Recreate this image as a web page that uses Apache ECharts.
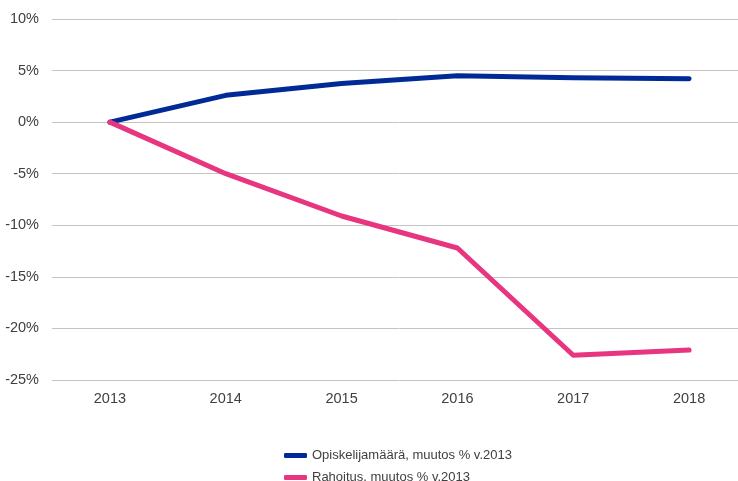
<!DOCTYPE html>
<html><head><meta charset="utf-8">
<script src="https://cdn.jsdelivr.net/npm/echarts@6/dist/echarts.min.js"></script>
<style>html,body{margin:0;padding:0;background:#fff;overflow:hidden;width:738px;height:481px}#c{width:747px;height:481px}</style>
</head><body><div id="c"></div>
<script>
const categories = ['2013','2014','2015','2016','2017','2018'];
const opiskelijat = [0, 2.6, 3.75, 4.5, 4.3, 4.2];
const rahoitus = [0, -5.0, -9.1, -12.2, -22.6, -22.1];
const seriesNames = ['Opiskelijamäärä, muutos % v.2013', 'Rahoitus. muutos % v.2013'];

const legendText = {color:'#404040', fontSize:13};
const chart = echarts.init(document.getElementById('c'), null, {renderer:'canvas'});
chart.setOption({
  animation:false,
  textStyle:{fontFamily:'Liberation Sans, Arial, sans-serif'},
  grid:{left:52, right:0, top:19, height:361, containLabel:false, outerBoundsMode:'none'},
  xAxis:{type:'category', data:categories, boundaryGap:true,
    axisLine:{show:false}, axisTick:{show:false},
    axisLabel:{color:'#404040', fontSize:14.5, margin:11}},
  yAxis:{type:'value', min:-25, max:10, interval:5,
    axisLine:{show:false}, axisTick:{show:false},
    axisLabel:{color:'#404040', fontSize:14.5, margin:13, formatter:'{value}%'},
    splitLine:{lineStyle:{color:'#c4c4c4', width:1}}},
  legend:[
    {orient:'horizontal', left:279, top:444, itemWidth:23, itemHeight:5, textStyle:legendText,
      data:[{name:seriesNames[0], icon:'roundRect'}]},
    {orient:'horizontal', left:279, top:466, itemWidth:23, itemHeight:5, textStyle:legendText,
      data:[{name:seriesNames[1], icon:'roundRect'}]}
  ],
  series:[
    {name:seriesNames[0], type:'line', data:opiskelijat, showSymbol:false, symbol:'none',
      lineStyle:{color:'#002b96', width:5, cap:'round', join:'round'}, itemStyle:{color:'#002b96'}},
    {name:seriesNames[1], type:'line', data:rahoitus, showSymbol:false, symbol:'none',
      lineStyle:{color:'#e8357f', width:5, cap:'round', join:'round'}, itemStyle:{color:'#e8357f'}}
  ]
});
</script></body></html>
